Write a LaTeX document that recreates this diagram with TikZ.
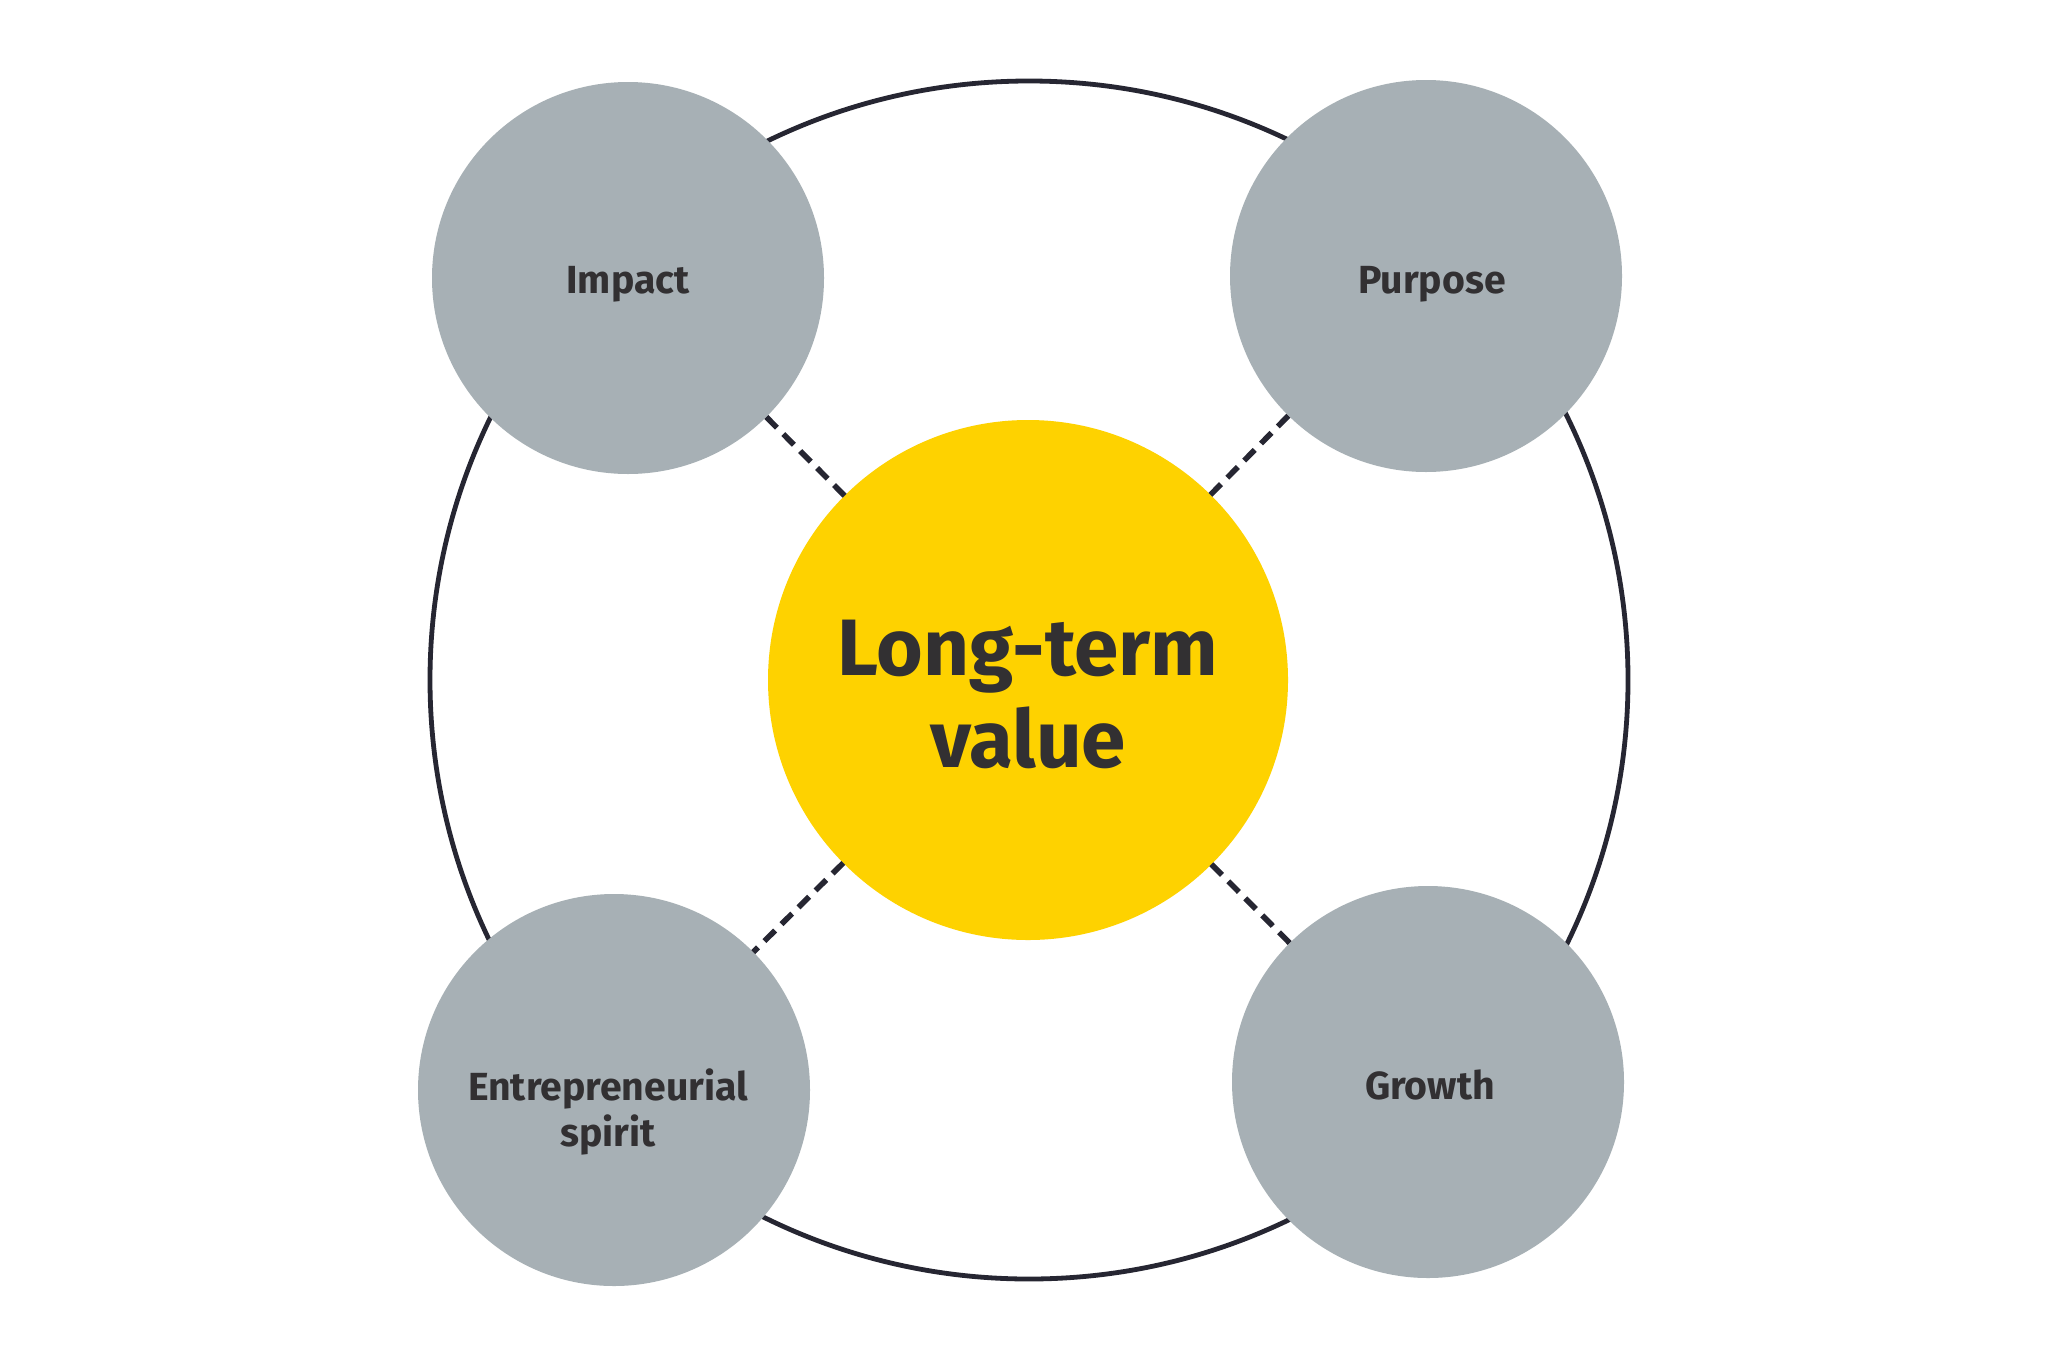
\documentclass[tikz,border=0pt]{standalone}
\usepackage{fontspec}
\setmainfont{Fira Sans}
\definecolor{ringcol}{RGB}{38,38,50}
\definecolor{greyfill}{RGB}{167,176,181}
\definecolor{eyyellow}{RGB}{254,210,0}
\definecolor{txtcol}{RGB}{50,48,50}
\tikzset{
  ringstyle/.style={circle, draw=ringcol, line width=2.4pt, minimum size=599pt, inner sep=0pt, outer sep=0pt},
  greycircle/.style={circle, fill=greyfill, minimum size=196pt, inner sep=0pt, outer sep=0pt},
  corecircle/.style={circle, fill=eyyellow, minimum size=260pt, inner sep=0pt, outer sep=0pt},
  smalltext/.style={text=txtcol, font=\fontsize{19.6pt}{23pt}\selectfont\bfseries, align=center},
  bigtext/.style={text=txtcol, font=\fontsize{40pt}{46pt}\selectfont\bfseries, align=center},
  dashlink/.style={draw=ringcol, line width=2.8pt, dash pattern=on 7.5pt off 4.5pt}
}
\begin{document}
\begin{tikzpicture}[x=0.5pt, y=-0.5pt]
\useasboundingbox (0,0) rectangle (2048,1365);
\fill[white] (0,0) rectangle (2048,1365);
\node[ringstyle] (ring) at (1029,680) {};
\node[corecircle] (core) at (1028,680) {};
\node[bigtext] (coretext) at (1028,694) {Long-term\\value};
\node[greycircle] (impact) at (628,278) {};
\node[greycircle] (purpose) at (1426,276) {};
\node[greycircle] (entre) at (614,1090) {};
\node[greycircle] (growth) at (1428,1082) {};
\node[smalltext] (impacttext) at (628,284) {Impact};
\node[smalltext] (purposetext) at (1432,284) {Purpose};
\node[smalltext] (entretext) at (608,1112) {Entrepreneurial\\spirit};
\node[smalltext] (growthtext) at (1430,1085) {Growth};
\draw[dashlink] (core) -- (impact);
\draw[dashlink] (core) -- (purpose);
\draw[dashlink] (core) -- (entre);
\draw[dashlink] (core) -- (growth);
\end{tikzpicture}
\end{document}
